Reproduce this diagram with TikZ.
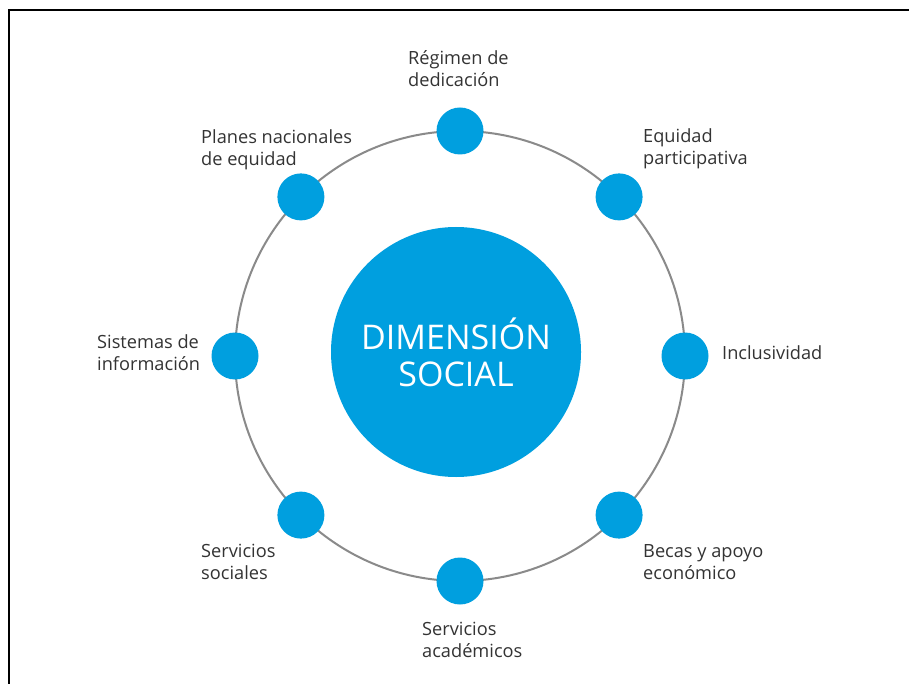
\documentclass[tikz,border=0pt]{standalone}
\usepackage{fontspec}
\setmainfont{Open Sans}
\usetikzlibrary{calc}
\definecolor{dblue}{HTML}{009FDF}
\definecolor{ringgray}{HTML}{8A8A8A}
\definecolor{txt}{HTML}{333333}
\begin{document}
\begin{tikzpicture}[x=1pt,y=-1pt,
  dot/.style={circle,fill=dblue,minimum size=47pt,inner sep=0pt},
  lbl/.style={font=\fontsize{18.2}{22}\selectfont,text=txt,align=left,inner sep=0pt,anchor=base west},
  frame/.style={line width=2pt,black}]
\useasboundingbox (0,0) rectangle (909,684);
\fill[white] (0,0) rectangle (909,684);
\draw[frame] (909,10) -- (9,10) -- (9,684);
\coordinate (c) at (460,356);
\draw[ringgray,line width=2pt] (c) circle[radius=225];
\node[circle,fill=dblue,minimum size=250pt,inner sep=0pt,text=white,align=center,
  font=\fontsize{34}{37}\selectfont] (center) at (456,352) {DIMENSIÓN\\SOCIAL};
\foreach \n/\a in {t/90,tr/45,r/0,br/-45,b/-90,bl/-135,l/180,tl/135}
  \node[dot] (\n) at ($(c)+({225*cos(\a)},{-225*sin(\a)})$) {};
\node[lbl] (lt) at (408,87) {Régimen de\\dedicación};
\node[lbl] (ltl) at (201,166) {Planes nacionales\\de equidad};
\node[lbl] (ltr) at (643,165) {Equidad\\participativa};
\node[lbl] (ll) at (97,370) {Sistemas de\\información};
\node[lbl] (lr) at (722,359) {Inclusividad};
\node[lbl] (lbl2) at (201,579) {Servicios\\sociales};
\node[lbl] (lbr) at (643,579) {Becas y apoyo\\económico};
\node[lbl] (lb) at (422,657) {Servicios\\académicos};
\end{tikzpicture}
\end{document}
